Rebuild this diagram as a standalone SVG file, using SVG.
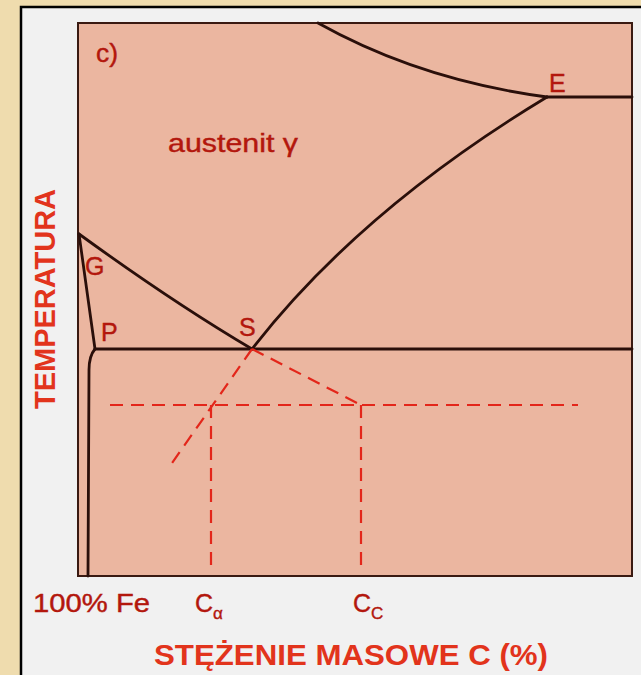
<svg xmlns="http://www.w3.org/2000/svg" width="641" height="675" viewBox="0 0 641 675">
<style>
.ln{fill:none;stroke:#2a0f0a;stroke-width:2.8;stroke-linecap:round}
.ds{fill:none;stroke:#e3261a;stroke-width:2.2;stroke-dasharray:13 8}
.lbl{font-family:"Liberation Sans",Arial,sans-serif;fill:#b3170d;font-size:25px;stroke:#b3170d;stroke-width:0.4}
.ax{font-family:"Liberation Sans",Arial,sans-serif;fill:#e2341c;font-size:29px;font-weight:bold}
</style>
<rect x="0" y="0" width="641" height="675" fill="#efdcae"/>
<rect x="21" y="7" width="640" height="690" fill="#f1f1f1" stroke="#000" stroke-width="2.5"/>
<g id="plot">
<rect x="78" y="23" width="554" height="553" fill="#ebb6a0" stroke="#3a1a12" stroke-width="2"/>
</g>
<g id="connectors">
<path class="ln" d="M318,23 Q420,80 547,97"/>
<path class="ln" d="M547,97 L632,97"/>
<path class="ln" d="M252,349 Q360,210 547,97"/>
<path class="ln" d="M79,234 Q174,303 252,349"/>
<path class="ln" d="M79,234 Q88,300 95,349"/>
<path class="ln" d="M95,349 L632,349"/>
<path class="ln" d="M95,349 Q89,356 89,370 L88,576"/>
<path class="ds" d="M252,349 L172,463"/>
<path class="ds" d="M252,349 L359,404"/>
<path class="ds" d="M110,405 L578,405"/>
<path class="ds" d="M211,405 L211,568"/>
<path class="ds" d="M361,405 L361,568"/>
</g>
<g id="labels">
<text class="lbl" x="96" y="62" font-size="27" textLength="22" lengthAdjust="spacingAndGlyphs">c)</text>
<text class="lbl" x="168" y="152" textLength="130" lengthAdjust="spacingAndGlyphs">austenit γ</text>
<text class="lbl" x="549" y="92">E</text>
<text class="lbl" x="85" y="275">G</text>
<text class="lbl" x="101" y="341">P</text>
<text class="lbl" x="239" y="336">S</text>
<text class="lbl" x="33" y="612" font-size="27" textLength="117" lengthAdjust="spacingAndGlyphs">100% Fe</text>
<text class="lbl" x="195" y="612" font-size="27">C<tspan font-size="17" dy="7">α</tspan></text>
<text class="lbl" x="353" y="612" font-size="27">C<tspan font-size="17" dy="7">C</tspan></text>
<text class="ax" x="154" y="665" font-size="30" textLength="394" lengthAdjust="spacingAndGlyphs">STĘŻENIE  MASOWE C (%)</text>
<text class="ax" x="0" y="0" text-anchor="middle" transform="translate(55,299) rotate(-90)" textLength="220" lengthAdjust="spacingAndGlyphs">TEMPERATURA</text>
</g>
</svg>
